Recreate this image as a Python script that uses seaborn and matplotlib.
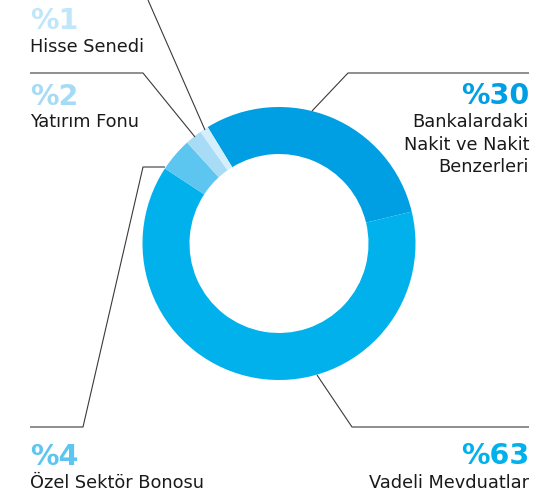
import matplotlib
matplotlib.use("Agg")
import matplotlib.pyplot as plt
import seaborn as sns

# slice data, in clockwise order starting at the top-left
labels = ["Bankalardaki\nNakit ve Nakit\nBenzerleri", "Vadeli Mevduatlar",
          "Özel Sektör Bonosu", "Yatırım Fonu", "Hisse Senedi"]
shares = [30, 63, 4, 2, 1]
pct_text = ["%30", "%63", "%4", "%2", "%1"]
slice_colors = ["#009fe3", "#00b1eb", "#5cc6f0", "#a8dcf6", "#d4eefb"]
pct_colors = ["#009fe3", "#00b1eb", "#5cc6f0", "#a6dbf6", "#c0e6f9"]

sns.set_theme(style="white")
plt.rcParams["font.family"] = ["DejaVu Sans"]

W, H, DPI = 537, 498, 100
fig = plt.figure(figsize=(W / DPI, H / DPI), dpi=DPI)
ax = fig.add_axes([0, 0, 1, 1])

# pixel coordinates, y pointing down
cx, cy, r_out, ring = 279, 243.5, 136.5, 47
ax.pie(shares, colors=slice_colors, startangle=-121.5, counterclock=True,
       center=(cx, cy), radius=r_out,
       wedgeprops=dict(width=ring, edgecolor="none", linewidth=0))
ax.set_xlim(0, W)
ax.set_ylim(H, 0)
ax.set_aspect("equal")
ax.axis("off")

# leader lines (image pixel coords)
leaders = [
    [(312, 111), (348, 73), (529, 73)],      # %30
    [(317, 375), (352, 427), (529, 427)],    # %63
    [(165, 167), (143, 167), (83, 427), (30, 427)],  # %4
    [(195, 137), (143, 73), (30, 73)],       # %2
    [(205, 130), (148, 0)],                  # %1
]
for pts in leaders:
    xs, ys = zip(*pts)
    ax.plot(xs, ys, color="#3a3a3a", lw=0.8, solid_capstyle="butt")

# text blocks: (x, pct baseline, label baseline, ha)
blocks = [
    (529, 104, 127, "right"),
    (529, 464, 487.5, "right"),
    (30, 465, 488, "left"),
    (30, 105, 127, "left"),
    (30, 29, 52, "left"),
]
for (x, yp, yl, ha), p, lab, col in zip(blocks, pct_text, labels, pct_colors):
    ax.text(x, yp, p, ha=ha, va="baseline", fontsize=20.5, fontweight="bold",
            color=col)
    for i, line in enumerate(lab.split("\n")):
        ax.text(x, yl + i * 22.5, line, ha=ha, va="baseline", fontsize=12.8,
                color="#1a1a1a")

fig.savefig("out.png", dpi=DPI, facecolor="white")
